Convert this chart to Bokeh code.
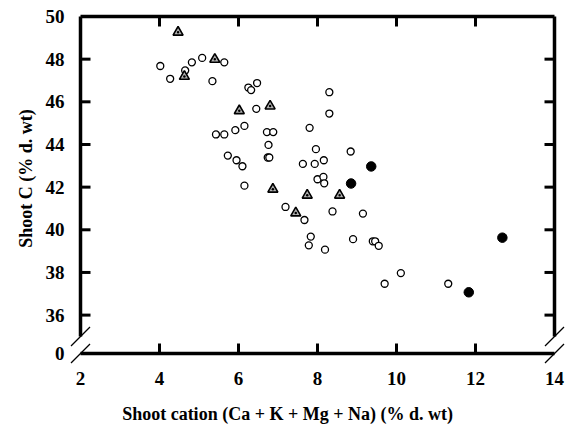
import math
from bokeh.plotting import figure
from bokeh.models import FixedTicker
from bokeh.core.properties import value
from bokeh.embed import file_html
from bokeh.resources import INLINE

# ---- data ----
open_x = [4.02, 4.27, 4.65, 4.82, 5.08, 5.64, 5.34, 6.25, 6.32, 6.47, 6.45,
          5.43, 5.64, 5.92, 6.15, 6.72, 6.88, 6.76, 6.74, 6.78, 5.73, 5.95,
          6.10, 6.15, 8.30, 8.30, 7.80, 7.96, 8.84, 7.63, 7.93, 8.16, 8.00,
          8.15, 8.17, 7.19, 7.67, 8.38, 9.15, 7.83, 7.78, 8.19, 8.90, 9.40,
          9.46, 9.55, 10.11, 9.70, 11.31]
open_y = [47.68, 47.08, 47.47, 47.85, 48.06, 47.85, 46.97, 46.67, 46.55, 46.88, 45.67,
          44.47, 44.47, 44.67, 44.87, 44.58, 44.58, 43.98, 43.39, 43.39, 43.48, 43.26,
          42.98, 42.07, 46.45, 45.45, 44.78, 43.78, 43.67, 43.09, 43.09, 43.26, 42.37,
          42.48, 42.18, 41.07, 40.46, 40.86, 40.76, 39.68, 39.27, 39.07, 39.56, 39.46,
          39.46, 39.25, 37.97, 37.47, 37.47]
tri_x = [4.47, 4.63, 5.40, 6.02, 6.80, 6.87, 7.74, 8.56, 7.45]
tri_y = [49.26, 47.19, 47.99, 45.58, 45.80, 41.90, 41.62, 41.62, 40.79]
fill_x = [9.36, 8.85, 12.68, 11.83]
fill_y = [42.97, 42.17, 39.63, 37.07]

x_ticks = [2, 4, 6, 8, 10, 12, 14]
y_ticks = [36, 38, 40, 42, 44, 46, 48, 50]
y_floor = 34.2          # bottom of the broken y axis, labelled "0"
y_floor_label = "0"
y_break = 35.0          # where the side axes stop (axis break)
x_lo, x_hi, y_hi = 2.0, 14.0, 50.0
x_title = "Shoot cation (Ca + K + Mg + Na) (% d. wt)"
y_title = "Shoot C (% d. wt)"

# ---- layout ----
W, H = 570, 425
ML, MR, MT, MB = 80, 16, 16, 72
FONT = "Liberation Serif"

p = figure(width=W, height=H, x_range=(x_lo, x_hi), y_range=(y_floor, y_hi),
           output_backend="svg", toolbar_location=None,
           min_border_left=ML, min_border_right=MR, min_border_top=MT, min_border_bottom=MB)
p.outline_line_color = None
p.grid.visible = False
p.background_fill_color = "white"

for ax in (p.xaxis[0], p.yaxis[0]):
    ax.axis_line_color = None
    ax.major_tick_line_color = None
    ax.minor_tick_line_color = None
    ax.major_label_text_font = FONT
    ax.major_label_text_font_style = "bold"
    ax.major_label_text_font_size = "19px"
    ax.major_label_text_color = "black"

p.xaxis.ticker = FixedTicker(ticks=x_ticks)
p.xaxis.major_label_standoff = 12

p.yaxis.ticker = FixedTicker(ticks=[y_floor] + y_ticks)
p.yaxis.major_label_overrides = {y_floor: y_floor_label}
p.yaxis.major_label_standoff = 10

# pixel scale helpers
px_x = (W - ML - MR) / (x_hi - x_lo)
px_y = (H - MT - MB) / (y_hi - y_floor)

# axis titles (text glyphs at overlay level, offset like the reference)
p.text(x=[x_lo + 207 / px_x], y=[y_floor - 60 / px_y], text=[x_title],
       text_align="center", text_baseline="middle",
       text_font=value(FONT), text_font_style="bold", text_font_size="18px",
       text_color="black", level="overlay")
p.text(x=[x_lo - 55 / px_x], y=[y_hi - 162 / px_y], text=[y_title], angle=math.pi / 2,
       text_align="center", text_baseline="middle",
       text_font=value(FONT), text_font_style="bold", text_font_size="18px",
       text_color="black", level="overlay")

# frame lines (with break at the lower corners)
AXW = 3.5
p.segment(x0=[x_lo, x_lo, x_hi, x_lo], y0=[y_hi, y_hi, y_hi, y_floor],
          x1=[x_hi, x_lo, x_hi, x_hi], y1=[y_hi, y_break, y_break, y_floor],
          line_color="black", line_width=AXW, level="overlay")

# inward tick marks
tl = 10.0
inner_x = [float(v) for v in x_ticks[1:-1]]
inner_y = [float(v) for v in y_ticks[:-1]]
nx, ny = len(inner_x), len(inner_y)
p.segment(x0=inner_x, y0=[y_floor] * nx, x1=inner_x, y1=[y_floor + tl / px_y] * nx,
          line_color="black", line_width=3, level="overlay")
p.segment(x0=inner_x, y0=[y_hi] * nx, x1=inner_x, y1=[y_hi - tl / px_y] * nx,
          line_color="black", line_width=3, level="overlay")
p.segment(x0=[x_lo] * ny, y0=inner_y, x1=[x_lo + tl / px_x] * ny, y1=inner_y,
          line_color="black", line_width=3, level="overlay")
p.segment(x0=[x_hi] * ny, y0=inner_y, x1=[x_hi - tl / px_x] * ny, y1=inner_y,
          line_color="black", line_width=3, level="overlay")

# break slashes
s = 9.5
bx = [x_lo, x_lo, x_hi, x_hi]
by = [y_break, y_floor, y_break, y_floor]
p.segment(x0=[v - s / px_x for v in bx], y0=[v - s / px_y for v in by],
          x1=[v + s / px_x for v in bx], y1=[v + s / px_y for v in by],
          line_color="black", line_width=1.3, level="overlay")

# data
p.scatter(open_x, open_y, marker="circle", size=7, fill_color="white",
          line_color="black", line_width=1.3)
p.scatter(tri_x, tri_y, marker="triangle_dot", size=10, fill_color="#b0b0b0",
          line_color="black", line_width=1.6)
p.scatter(fill_x, fill_y, marker="circle", size=9.5, fill_color="black",
          line_color="black", line_width=1)

open("out.html", "w").write(file_html(p, INLINE))
